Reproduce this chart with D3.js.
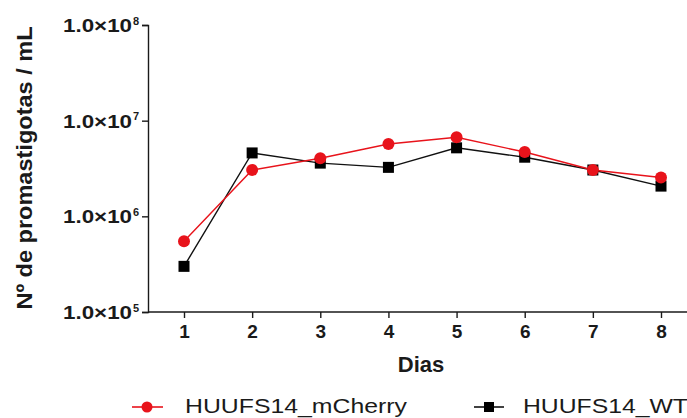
<!DOCTYPE html>
<html><head><meta charset="utf-8">
<script src="https://cdn.jsdelivr.net/npm/d3@7"></script>
<style>body{margin:0;background:#fff}svg{display:block}text{font-family:"Liberation Sans",Arial,sans-serif}</style>
</head><body><svg id="c" width="687" height="418"></svg>
<script>
const days = [1,2,3,4,5,6,7,8];
const mCherry = [5.5e5, 3.05e6, 4.05e6, 5.7e6, 6.7e6, 4.7e6, 3.05e6, 2.55e6];
const wt = [3.0e5, 4.6e6, 3.6e6, 3.25e6, 5.2e6, 4.15e6, 3.05e6, 2.07e6];
const yTicks = [1e5, 1e6, 1e7, 1e8];
const seriesNames = ["HUUFS14_mCherry", "HUUFS14_WT"];

const svg = d3.select("#c");
const x = d3.scaleLinear().domain([1, 8]).range([184, 661]);
const y = d3.scaleLog().domain([1e5, 1e8]).range([312, 25]);
const axisX0 = 148;
const ink = "#1a1a1a";

// y axis
const yAxis = d3.axisLeft(y).tickValues(yTicks).tickSize(6).tickFormat(() => "");
const gy = svg.append("g").attr("transform", `translate(${axisX0},0)`).call(yAxis);
gy.select(".domain").attr("stroke", ink).attr("stroke-width", 1.4);
gy.selectAll(".tick line").attr("stroke", ink).attr("stroke-width", 1.4);
gy.selectAll(".tick").each(function(d) {
  const g = d3.select(this);
  g.append("text").attr("x", -85).attr("y", 6.5)
    .attr("text-anchor", "start").attr("fill", ink).style("font-weight", "bold").style("font-size", "18px")
    .attr("textLength", 69).attr("lengthAdjust", "spacingAndGlyphs").text("1.0×10");
  g.append("text").attr("x", -15).attr("y", -1)
    .attr("text-anchor", "start").attr("fill", ink).style("font-weight", "bold").style("font-size", "11px")
    .text(Math.round(Math.log10(d)));
});

// x axis
const xAxis = d3.axisBottom(x).tickValues(days).tickSize(6).tickPadding(7).tickFormat(d3.format("d"));
const gx = svg.append("g").attr("transform", `translate(0,312)`).call(xAxis);
gx.select(".domain").remove();
gx.append("line").attr("x1", axisX0).attr("x2", 687).attr("stroke", ink).attr("stroke-width", 1.4);
gx.selectAll(".tick line").attr("stroke", ink).attr("stroke-width", 1.4);
gx.selectAll(".tick text").attr("fill", ink).style("font-weight", "bold").style("font-size", "19px")
  .style("font-family", "Liberation Sans, Arial, sans-serif");

// titles
svg.append("text").attr("x", 421).attr("y", 372).attr("text-anchor", "middle")
  .style("font-weight", "bold").style("font-size", "22px").attr("fill", ink).text("Dias");
svg.append("text").attr("transform", "translate(32,168) rotate(-90)").attr("text-anchor", "middle")
  .style("font-weight", "bold").style("font-size", "22px").attr("fill", ink)
  .attr("textLength", 283).attr("lengthAdjust", "spacingAndGlyphs").text("Nº de promastigotas / mL");

// lines
const line = d3.line().x((d, i) => x(days[i])).y(d => y(d));
const red = "#e8131b";
svg.append("path").datum(wt).attr("d", line).attr("fill", "none").attr("stroke", "#111").attr("stroke-width", 1.4);
svg.append("path").datum(mCherry).attr("d", line).attr("fill", "none").attr("stroke", red).attr("stroke-width", 1.4);
svg.selectAll(".sq").data(wt).join("rect").attr("class", "sq")
  .attr("x", (d, i) => x(days[i]) - 5.5).attr("y", d => y(d) - 5.5).attr("width", 11).attr("height", 11).attr("fill", "#000");
svg.selectAll(".ci").data(mCherry).join("circle").attr("class", "ci")
  .attr("cx", (d, i) => x(days[i])).attr("cy", d => y(d)).attr("r", 6).attr("fill", red);

// legend
const ly = 407;
const lg = svg.append("g");
lg.append("line").attr("x1", 132).attr("x2", 163).attr("y1", ly).attr("y2", ly).attr("stroke", red).attr("stroke-width", 1.6);
lg.append("circle").attr("cx", 147).attr("cy", ly).attr("r", 5.5).attr("fill", red);
lg.append("text").attr("x", 185).attr("y", 413).style("font-size", "21px").attr("fill", ink)
  .attr("textLength", 222).attr("lengthAdjust", "spacingAndGlyphs").text(seriesNames[0]);
lg.append("line").attr("x1", 474).attr("x2", 504).attr("y1", ly).attr("y2", ly).attr("stroke", "#111").attr("stroke-width", 1.6);
lg.append("rect").attr("x", 484).attr("y", ly - 5).attr("width", 10).attr("height", 10).attr("fill", "#000");
lg.append("text").attr("x", 523).attr("y", 413).style("font-size", "21px").attr("fill", ink)
  .attr("textLength", 165).attr("lengthAdjust", "spacingAndGlyphs").text(seriesNames[1]);
</script></body></html>
